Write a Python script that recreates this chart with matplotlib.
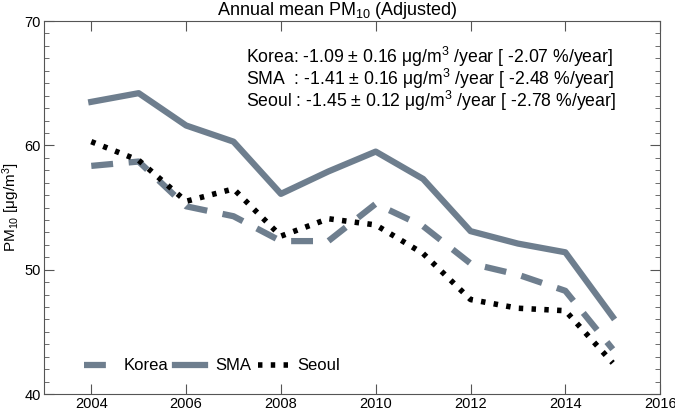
import matplotlib
matplotlib.use("Agg")
import matplotlib.pyplot as plt
from matplotlib.ticker import MultipleLocator

plt.rcParams['font.family'] = ['Liberation Sans', 'DejaVu Sans']
plt.rcParams['mathtext.fontset'] = 'custom'
plt.rcParams['mathtext.rm'] = 'Liberation Sans'
plt.rcParams['mathtext.it'] = 'Liberation Sans'

years = [2004, 2005, 2006, 2007, 2008, 2009, 2010, 2011, 2012, 2013, 2014, 2015]
korea = [58.35, 58.7, 55.1, 54.3, 52.3, 52.3, 55.3, 53.5, 50.5, 49.6, 48.3, 43.6]
sma = [63.5, 64.2, 61.6, 60.3, 56.1, 57.9, 59.5, 57.3, 53.1, 52.1, 51.4, 46.2]
seoul = [60.3, 58.8, 55.5, 56.5, 52.7, 54.1, 53.6, 51.3, 47.6, 46.9, 46.7, 42.5]

trend_lines = [
    "Korea: -1.09 \u00b1 0.16 \u03bcg/m$^3$ /year [ -2.07 %/year]",
    "SMA  : -1.41 \u00b1 0.16 \u03bcg/m$^3$ /year [ -2.48 %/year]",
    "Seoul : -1.45 \u00b1 0.12 \u03bcg/m$^3$ /year [ -2.78 %/year]",
]

grey = '#6e7e8e'

fig = plt.figure(figsize=(6.75, 4.13), dpi=100)
ax = fig.add_axes([0.065, 0.046, 0.913, 0.903])

ax.plot(years, korea, color=grey, lw=4.5, ls=(0, (3.5, 2.5)), label='Korea')
ax.plot(years, sma, color=grey, lw=4.5, ls='-', label='SMA')
ax.plot(years, seoul, color='black', lw=4, ls=(0, (0.8, 1.5)), label='Seoul')

ax.set_xlim(2003, 2016)
ax.set_ylim(40, 70)
ax.xaxis.set_major_locator(MultipleLocator(2))
ax.yaxis.set_major_locator(MultipleLocator(10))
ax.yaxis.set_minor_locator(MultipleLocator(1))
ax.tick_params(which='both', direction='in', top=True, right=True,
               labelsize=10.5, color='#555555', pad=2)
ax.tick_params(which='major', length=7)
ax.tick_params(which='minor', length=3.5)
for s in ax.spines.values():
    s.set_color('#555555')

ax.set_title("Annual mean PM$_{10}$ (Adjusted)", fontsize=13, pad=2, x=0.476)
ax.set_ylabel("PM$_{10}$ [\u03bcg/m$^3$]", fontsize=11, labelpad=2)

for i, t in enumerate(trend_lines):
    ax.text(0.328, 0.903 - i * 0.059, t, transform=ax.transAxes,
            fontsize=12.7, va='center', ha='left')

ax.legend(loc='lower left', bbox_to_anchor=(0.04, 0.015), ncol=3, frameon=False,
          handlelength=1.8, handletextpad=0.6, columnspacing=0.4, fontsize=12)

plt.savefig('out.png', dpi=100)
